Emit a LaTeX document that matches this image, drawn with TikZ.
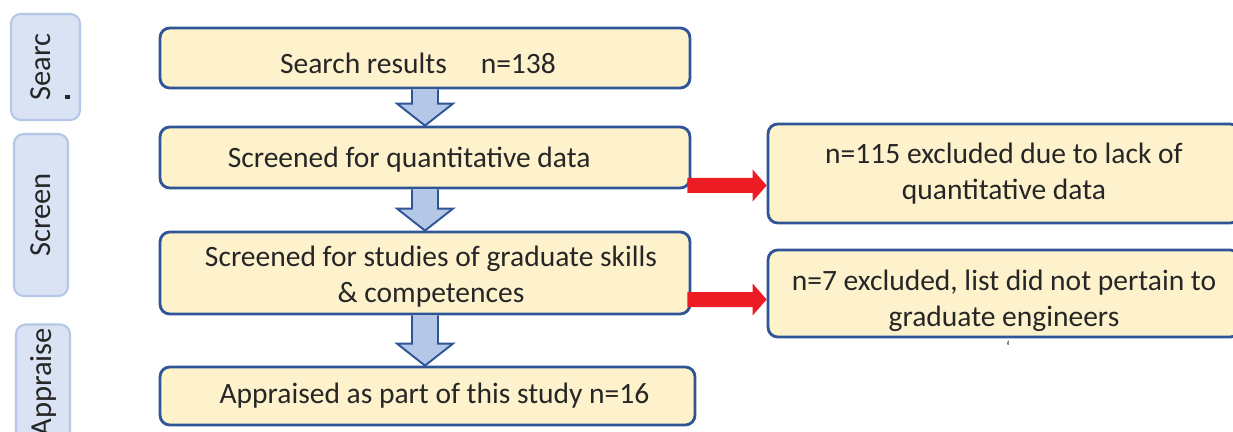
\documentclass[tikz,border=0pt]{standalone}
\usepackage{fontspec}
\setmainfont{Carlito}
\usetikzlibrary{calc}

\definecolor{stagefill}{HTML}{FDF2CC}
\definecolor{stageline}{HTML}{2F5597}
\definecolor{tabfill}{HTML}{DAE3F3}
\definecolor{tabline}{HTML}{B4C7E7}
\definecolor{exclred}{HTML}{ED1C24}

\tikzset{
  stagebox/.style={draw=stageline, fill=stagefill, line width=1.6pt,
    rounded corners=5.5pt, align=center, inner sep=0pt,
    font=\fontsize{16.8}{20.5}\selectfont, text=black!85},
  phasetab/.style={draw=tabline, fill=tabfill, line width=1.2pt,
    rounded corners=5.5pt, rotate=90, inner sep=2pt,
    font=\fontsize{17.4}{20}\selectfont, text=black!85},
  downshape/.style={draw=stageline, fill=tabline, line width=1.1pt},
  sideshape/.style={fill=exclred},
}

% shift a text without changing the size TikZ sees
\newcommand{\nudge}[2]{\raisebox{#1}[\height][\depth]{#2}}

% block arrow down, from the bottom of #1 to the top of #2
\newcommand{\blockdown}[2]{%
  \coordinate (tip) at (#1.south |- #2.north);
  \draw[downshape] ($(#1.south)+(-13,0)$) -- ($(tip)+(-13,-22)$)
    -- ($(tip)+(-28,-22)$) -- (tip) -- ($(tip)+(28,-22)$)
    -- ($(tip)+(13,-22)$) -- ($(#1.south)+(13,0)$);
}
% red block arrow to the right, at height #3
\newcommand{\blockright}[3]{%
  \path let \p1=(#1.east), \p2=(#2.west), \p3=(0,#3) in
    coordinate (tl) at (\x1,\y3) coordinate (tp) at (\x2,\y3);
  \fill[sideshape] ($(tl)+(-4,-7.5)$) -- ($(tp)+(-14,-7.5)$)
    -- ($(tp)+(-14,-16)$) -- (tp) -- ($(tp)+(-14,16)$)
    -- ($(tp)+(-14,7.5)$) -- ($(tl)+(-4,7.5)$) -- cycle;
}

\begin{document}
\begin{tikzpicture}[x=0.02cm, y=-0.02cm]
  \useasboundingbox (0,0) rectangle (1233,432);
  \clip (0,0) rectangle (1233,432);

  % phase tabs
  \node[phasetab, minimum width=2.12cm, minimum height=1.38cm] (tsearch) at (45.5,67) {\nudge{2.8pt}{Searc}};
  \fill[black!85] (65,95) rectangle (70,99);
  \node[phasetab, minimum width=3.24cm, minimum height=1.08cm] (tscreen) at (41,215) {Screen};
  \node[phasetab, text width=3.4cm, align=right, minimum height=1.08cm] (tappr) at (43,413) {Appraise};

  % main stages
  \node[stagebox, minimum width=10.6cm, minimum height=1.2cm] (s1) at (425,58) {\nudge{-2.8pt}{Search results\hspace{1.15em}n=138\hspace{8pt}}};
  \node[stagebox, minimum width=10.6cm, minimum height=1.22cm] (s2) at (425,157.5) {\nudge{-1.2pt}{Screened for quantitative data\hspace{18pt}}};
  \node[stagebox, minimum width=10.6cm, minimum height=1.64cm] (s3) at (425,273) {\nudge{-2.2pt}{\hspace{6.8pt}\begin{tabular}{@{}c@{}}Screened for studies of graduate skills\\ \& competences\end{tabular}}};
  \node[stagebox, minimum width=10.7cm, minimum height=1.16cm] (s4) at (427.5,396) {\hspace{8pt}Appraised as part of this study n=16};

  % exclusions
  \node[stagebox, minimum width=9.44cm, minimum height=1.98cm] (x1) at (1004,173.5) {n=115 excluded due to lack of\\ quantitative data};
  \node[stagebox, minimum width=9.44cm, minimum height=1.74cm] (x2) at (1004,293.5) {\nudge{-4.5pt}{\begin{tabular}{@{}c@{}}n=7 excluded, list did not pertain to\\ graduate engineers\end{tabular}}};
  \node[font=\small, text=black!85] (mark) at (1008,347) {`};

  \blockdown{s1}{s2}
  \blockdown{s2}{s3}
  \blockdown{s3}{s4}
  \blockright{s2}{x1}{185.5}
  \blockright{s3}{x2}{299.5}
\end{tikzpicture}
\end{document}
